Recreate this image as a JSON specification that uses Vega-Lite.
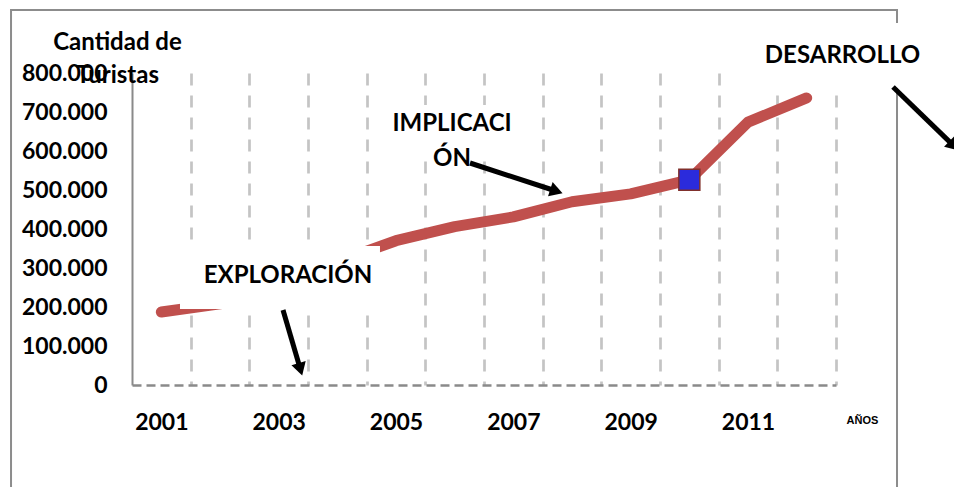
{
  "$schema": "https://vega.github.io/schema/vega-lite/v6.json",
  "width": 704,
  "height": 312,
  "autosize": "none",
  "padding": {"left": 132, "top": 73, "right": 118, "bottom": 102},
  "background": "white",
  "config": {"view": {"stroke": null}},
  "datasets": {
    "turistas": [
      {"year": 2001, "turistas": 187000},
      {"year": 2002, "turistas": 208000},
      {"year": 2003, "turistas": 262000},
      {"year": 2004, "turistas": 316000},
      {"year": 2005, "turistas": 370000},
      {"year": 2006, "turistas": 406000},
      {"year": 2007, "turistas": 431000},
      {"year": 2008, "turistas": 470000},
      {"year": 2009, "turistas": 490000},
      {"year": 2010, "turistas": 526000},
      {"year": 2011, "turistas": 674000},
      {"year": 2012, "turistas": 736000}
    ]
  },
  "resolve": {"scale": {"x": "shared", "y": "shared"}, "axis": {"x": "independent", "y": "independent"}},
  "layer": [
    {
      "data": {"values": [{}]},
      "mark": {"type": "rect", "fill": "white", "fillOpacity": 0, "stroke": "#8c8c8c", "strokeWidth": 2},
      "encoding": {
        "x": {"datum": 1998.438, "type": "quantitative", "scale": {"domain": [2000.5, 2012.5], "nice": false, "zero": false}, "axis": null},
        "x2": {"datum": 2013.54},
        "y": {"datum": 961538, "type": "quantitative", "scale": {"domain": [0, 800000], "nice": false}, "axis": null},
        "y2": {"datum": -294872}
      }
    },
    {
      "data": {"name": "turistas"},
      "mark": {"type": "line", "color": "#c0504d", "strokeWidth": 11, "strokeCap": "round", "strokeJoin": "round"},
      "encoding": {
        "x": {
          "field": "year", "type": "quantitative",
          "scale": {"domain": [2000.5, 2012.5], "nice": false, "zero": false},
          "axis": {
            "orient": "bottom", "values": [2001.5, 2002.5, 2003.5, 2004.5, 2005.5, 2006.5, 2007.5, 2008.5, 2009.5, 2010.5, 2011.5, 2012.5],
            "grid": true, "gridColor": "#c4c4c4", "gridDash": [12, 10], "gridWidth": 2.7,
            "labels": false, "ticks": false, "tickSize": 0,
            "domain": true, "domainColor": "#8a8a8a", "domainDash": [9, 5], "domainWidth": 2.5,
            "title": null
          }
        },
        "y": {
          "field": "turistas", "type": "quantitative",
          "scale": {"domain": [0, 800000], "nice": false},
          "axis": {
            "orient": "left", "values": [0, 100000, 200000, 300000, 400000, 500000, 600000, 700000, 800000],
            "grid": false, "ticks": false, "tickSize": 0,
            "domain": true, "domainColor": "#8a8a8a", "domainWidth": 2,
            "labelFont": "Lato", "labelFontSize": 23, "labelFontWeight": "bold", "labelColor": "#000000",
            "labelPadding": 25, "labelOverlap": false, "labelFlush": false,
            "labelExpr": "replace(format(datum.value, ','), ',', '.')",
            "title": ["Cantidad de", "Turistas"], "titleAngle": 0, "titleX": -15, "titleY": -24,
            "titleAlign": "center", "titleBaseline": "alphabetic",
            "titleFont": "Lato", "titleFontSize": 24, "titleFontWeight": "bold", "titleColor": "#000000",
            "titleLineHeight": 33
          }
        }
      }
    },
    {
      "data": {"name": "turistas"},
      "transform": [{"filter": "datum.year == 2010"}],
      "mark": {"type": "point", "shape": "square", "filled": true, "size": 441, "fill": "#2b2bdc", "stroke": "#80302c", "strokeWidth": 1.5, "opacity": 1},
      "encoding": {
        "x": {
          "field": "year", "type": "quantitative",
          "scale": {"domain": [2000.5, 2012.5], "nice": false, "zero": false},
          "axis": {
            "orient": "bottom", "values": [2001, 2003, 2005, 2007, 2009, 2011], "format": "d",
            "grid": false, "domain": false, "ticks": false, "tickSize": 0,
            "labelFont": "Lato", "labelFontSize": 23, "labelFontWeight": "bold", "labelColor": "#000000",
            "labelPadding": 26, "labelFlush": false, "labelOverlap": false,
            "title": "AÑOS", "titleFont": "Liberation Sans", "titleFontSize": 11, "titleFontWeight": "bold",
            "titleColor": "#000000", "titleX": 730, "titleY": 35, "titleAlign": "center", "titleBaseline": "middle"
          }
        },
        "y": {"field": "turistas", "type": "quantitative", "scale": {"domain": [0, 800000], "nice": false}, "axis": null}
      }
    },
    {
      "data": {"values": [{}]},
      "mark": {"type": "rect", "fill": "white", "stroke": null},
      "encoding": {
        "x": {"datum": 2001.318, "type": "quantitative", "scale": {"domain": [2000.5, 2012.5], "nice": false, "zero": false}, "axis": null},
        "x2": {"datum": 2004.727},
        "y": {"datum": 356410, "type": "quantitative", "scale": {"domain": [0, 800000], "nice": false}, "axis": null},
        "y2": {"datum": 194872}
      }
    },
    {
      "data": {"values": [{}]},
      "mark": {"type": "rect", "fill": "white", "stroke": null},
      "encoding": {
        "x": {"datum": 2004.99, "type": "quantitative", "scale": {"domain": [2000.5, 2012.5], "nice": false, "zero": false}, "axis": null},
        "x2": {"datum": 2006.88},
        "y": {"datum": 717949, "type": "quantitative", "scale": {"domain": [0, 800000], "nice": false}, "axis": null},
        "y2": {"datum": 576923}
      }
    },
    {
      "data": {"values": [{}]},
      "mark": {"type": "rect", "fill": "white", "stroke": null},
      "encoding": {
        "x": {"datum": 2011.034, "type": "quantitative", "scale": {"domain": [2000.5, 2012.5], "nice": false, "zero": false}, "axis": null},
        "x2": {"datum": 2014.188},
        "y": {"datum": 928205, "type": "quantitative", "scale": {"domain": [0, 800000], "nice": false}, "axis": null},
        "y2": {"datum": 761538}
      }
    },
    {
      "data": {"values": [{}]},
      "mark": {"type": "text", "font": "Lato", "fontSize": 24, "fontWeight": "bold", "color": "#000000", "align": "center", "baseline": "middle"},
      "encoding": {
        "x": {"datum": 2003.159, "type": "quantitative", "scale": {"domain": [2000.5, 2012.5], "nice": false, "zero": false}, "axis": null},
        "y": {"datum": 279487, "type": "quantitative", "scale": {"domain": [0, 800000], "nice": false}, "axis": null},
        "text": {"value": "EXPLORACIÓN"}
      }
    },
    {
      "data": {"values": [{}]},
      "mark": {"type": "text", "font": "Lato", "fontSize": 24, "fontWeight": "bold", "color": "#000000", "align": "center", "baseline": "alphabetic", "lineHeight": 35},
      "encoding": {
        "x": {"datum": 2005.955, "type": "quantitative", "scale": {"domain": [2000.5, 2012.5], "nice": false, "zero": false}, "axis": null},
        "y": {"datum": 651282, "type": "quantitative", "scale": {"domain": [0, 800000], "nice": false}, "axis": null},
        "text": {"value": ["IMPLICACI", "ÓN"]}
      }
    },
    {
      "data": {"values": [{}]},
      "mark": {"type": "text", "font": "Lato", "fontSize": 24, "fontWeight": "bold", "color": "#000000", "align": "center", "baseline": "alphabetic"},
      "encoding": {
        "x": {"datum": 2012.611, "type": "quantitative", "scale": {"domain": [2000.5, 2012.5], "nice": false, "zero": false}, "axis": null},
        "y": {"datum": 825641, "type": "quantitative", "scale": {"domain": [0, 800000], "nice": false}, "axis": null},
        "text": {"value": "DESARROLLO"}
      }
    },
    {
      "data": {"values": [
        {"ax": 2003.074, "ay": 192308, "bx": 2003.360, "by": 45385},
        {"ax": 2006.261, "ay": 569231, "bx": 2007.700, "by": 498718},
        {"ax": 2013.472, "ay": 764103, "bx": 2014.482, "by": 616923}
      ]},
      "mark": {"type": "rule", "color": "#000000", "strokeWidth": 5},
      "encoding": {
        "x": {"field": "ax", "type": "quantitative", "scale": {"domain": [2000.5, 2012.5], "nice": false, "zero": false}, "axis": null},
        "y": {"field": "ay", "type": "quantitative", "scale": {"domain": [0, 800000], "nice": false}, "axis": null},
        "x2": {"field": "bx"},
        "y2": {"field": "by"}
      }
    },
    {
      "data": {"values": [{}]},
      "mark": {"type": "point", "shape": "triangle", "filled": true, "color": "#000000", "opacity": 1, "size": 220, "angle": 163.7},
      "encoding": {
        "x": {"datum": 2003.360, "type": "quantitative", "scale": {"domain": [2000.5, 2012.5], "nice": false, "zero": false}, "axis": null},
        "y": {"datum": 45385, "type": "quantitative", "scale": {"domain": [0, 800000], "nice": false}, "axis": null}
      }
    },
    {
      "data": {"values": [{}]},
      "mark": {"type": "point", "shape": "triangle", "filled": true, "color": "#000000", "opacity": 1, "size": 220, "angle": 108.1},
      "encoding": {
        "x": {"datum": 2007.700, "type": "quantitative", "scale": {"domain": [2000.5, 2012.5], "nice": false, "zero": false}, "axis": null},
        "y": {"datum": 498718, "type": "quantitative", "scale": {"domain": [0, 800000], "nice": false}, "axis": null}
      }
    },
    {
      "data": {"values": [{}]},
      "mark": {"type": "point", "shape": "triangle", "filled": true, "color": "#000000", "opacity": 1, "size": 220, "angle": 134.1},
      "encoding": {
        "x": {"datum": 2014.482, "type": "quantitative", "scale": {"domain": [2000.5, 2012.5], "nice": false, "zero": false}, "axis": null},
        "y": {"datum": 616923, "type": "quantitative", "scale": {"domain": [0, 800000], "nice": false}, "axis": null}
      }
    }
  ]
}
